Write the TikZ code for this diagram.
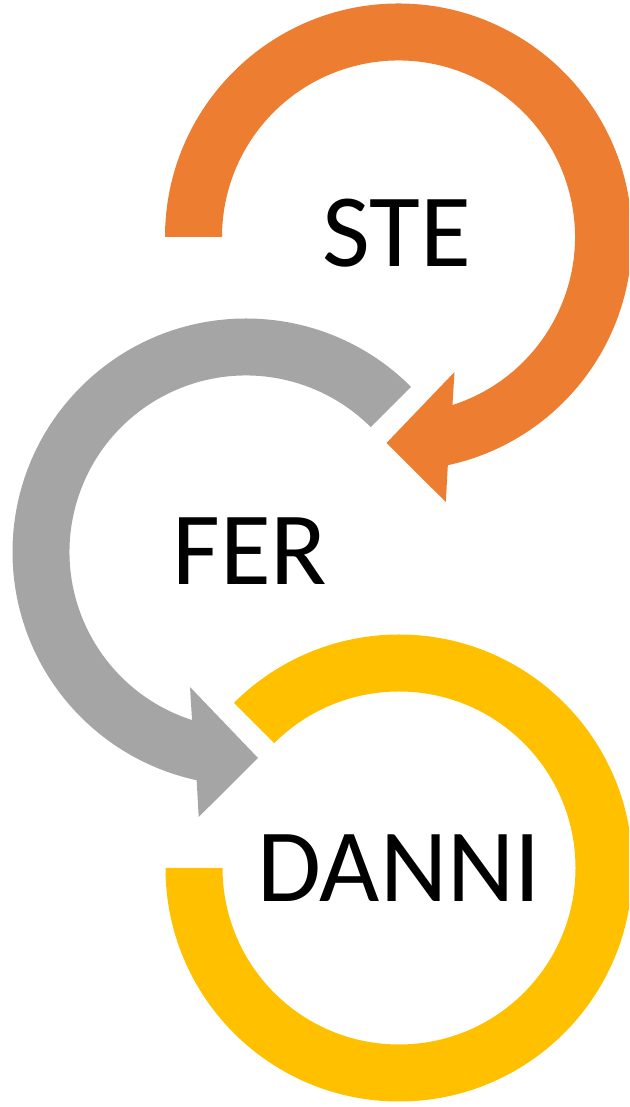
\documentclass[tikz,border=0pt]{standalone}
\usepackage{fontspec}
\setmainfont{Carlito}
\usetikzlibrary{calc}
\definecolor{arcorange}{HTML}{ED7D31}
\definecolor{arcgray}{HTML}{A5A5A5}
\definecolor{arcyellow}{HTML}{FFC000}
\begin{document}
\begin{tikzpicture}[x=1pt,y=1pt,
  label text/.style={inner sep=0pt,font=\fontsize{104}{104}\selectfont,text=black}]
\def\Ro{233.5}
\def\Ri{176.5}
\useasboundingbox (0,0) rectangle (629,1107);
\clip (0,0) rectangle (629,1107);

% ring centres
\coordinate (c1) at (398.5,870);
\coordinate (c2) at (246,555);
\coordinate (c3) at (399,239);

% orange circular arrow, head at the lower right
\fill[arcorange]
  ($(c1)+(180:\Ro)$) arc[start angle=180,end angle=-77.8,radius=\Ro]
  -- ($(c1)+(47.3,-265)$) -- ($(c1)+(-12,-206)$) -- ($(c1)+(56,-135)$)
  -- ($(c1)+(-72.2:\Ri)$) arc[start angle=-72.2,end angle=180,radius=\Ri]
  -- cycle;

% gray circular arrow, head at the lower left
\fill[arcgray]
  ($(c2)+(45:\Ro)$) arc[start angle=45,end angle=257.8,radius=\Ro]
  -- ($(c2)+(-47.3,-265)$) -- ($(c2)+(12,-206)$) -- ($(c2)+(-56,-135)$)
  -- ($(c2)+(252.2:\Ri)$) arc[start angle=252.2,end angle=45,radius=\Ri]
  -- cycle;

% yellow open ring
\fill[arcyellow]
  ($(c3)+(180:\Ro)$) arc[start angle=180,end angle=495,radius=\Ro]
  -- ($(c3)+(495:\Ri)$) arc[start angle=495,end angle=180,radius=\Ri]
  -- cycle;

\node[label text] (ste) at (397,873.5) {STE};
\node[label text] (fer) at (250,556) {FER};
\node[label text] (danni) at (399,239) {DANNI};
\end{tikzpicture}
\end{document}
